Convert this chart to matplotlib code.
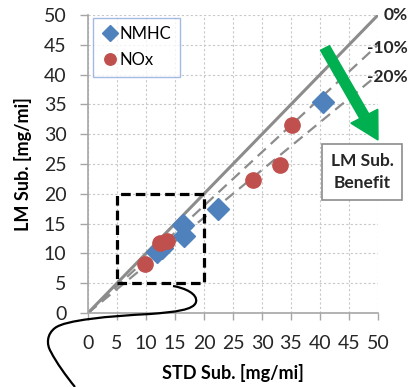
import matplotlib
matplotlib.use("Agg")
import matplotlib.pyplot as plt
import numpy as np
from matplotlib.path import Path
from matplotlib.patches import PathPatch, FancyArrow

plt.rcParams['font.family'] = ['Lato', 'DejaVu Sans']

# Data
nmhc_x = [40.5, 22.4, 16.4, 16.6, 11.9, 12.8]
nmhc_y = [35.4, 17.4, 14.8, 12.9, 10.3, 10.9]
nox_x = [35.2, 33.1, 28.5, 12.4, 13.6, 9.9]
nox_y = [31.5, 24.8, 22.3, 11.8, 12.0, 8.3]
ref_slopes = [1.0, 0.9, 0.8]
ref_labels = ["0%", "-10%", "-20%"]
ticks = list(range(0, 51, 5))

W, H = 409, 387
fig = plt.figure(figsize=(W/100, H/100), dpi=100)
ax = fig.add_axes([88/W, (H-313)/H, 290/W, 298/H])
ax.set_xlim(0, 50)
ax.set_ylim(0, 50)
ax.set_xticks(ticks)
ax.set_yticks(ticks)
ax.tick_params(axis='both', labelsize=14, colors='#A6A6A6', labelcolor='#262626')
ax.tick_params(axis='y', length=5.5, width=1, pad=10)
ax.tick_params(axis='x', length=5, width=1, pad=11)
ax.grid(True, color='#C8C8C8', linestyle=(0, (2, 2)), linewidth=0.8)
ax.set_axisbelow(True)
for s in ['top', 'right']:
    ax.spines[s].set_visible(False)
for s in ['left', 'bottom']:
    ax.spines[s].set_color('#A6A6A6')
    ax.spines[s].set_linewidth(1.2)

xx = np.array([0, 50])
ax.plot(xx, ref_slopes[0]*xx, color='#8C8C8C', lw=2.2, solid_capstyle='butt', zorder=2)
for s in ref_slopes[1:]:
    ax.plot(xx, s*xx, color='#8C8C8C', lw=1.6, ls=(0, (5, 3)), zorder=2)

ax.plot(nmhc_x, nmhc_y, 'D', color='#4F81BD', ms=11.5, mec='#4F81BD', label='NMHC', zorder=4)
ax.plot(nox_x, nox_y, 'o', color='#C0504D', ms=11, mec='#C0504D', label='NOx', zorder=4)

# dashed box
ax.plot([5, 20, 20, 5, 5], [5, 5, 20, 20, 5], color='black', lw=2.3, ls=(0, (3, 1.6)), zorder=5)

# percentage labels
label_y = [15, 48, 77]
for lab, py in zip(ref_labels, label_y):
    fig.text(408/W, (H-py)/H, lab, ha='right', va='center', fontsize=12.5, fontweight='bold', color='#262626')

leg = ax.legend(loc='upper left', bbox_to_anchor=(0.017, 0.99), borderaxespad=0,
                fontsize=12, frameon=True, fancybox=False, handletextpad=0.1,
                handlelength=1.0, borderpad=0.5, labelspacing=0.6, markerscale=0.75)
leg.get_frame().set_edgecolor('#8EA9DB')
leg.get_frame().set_linewidth(1.0)

ax.set_xlabel('STD Sub. [mg/mi]', fontsize=13, fontweight='bold')
ax.set_ylabel('LM Sub. [mg/mi]', fontsize=13, fontweight='bold')
ax.xaxis.set_label_coords(0.5, (313-373)/298, transform=ax.transAxes)
ax.yaxis.set_label_coords((23-88)/290, 0.5, transform=ax.transAxes)
ax.xaxis.label.set_va('center')
ax.yaxis.label.set_va('center')

# green arrow (figure pixel coords)
x0, y0 = 325/W, (H-48)/H
x1, y1 = 378/W, (H-140)/H
arr = FancyArrow(x0, y0, (x1-x0), (y1-y0), width=0.025, head_width=0.075,
                 head_length=0.07, length_includes_head=True, color='#00B050',
                 transform=fig.transFigure, zorder=6)
fig.add_artist(arr)

# benefit box
fig.text(362/W, (H-172)/H, 'LM Sub.\nBenefit', ha='center', va='center', fontsize=12.5,
         fontweight='bold', color='#262626', linespacing=1.45,
         bbox=dict(boxstyle='square,pad=0.5', fc='white', ec='#8C8C8C', lw=1.2))

# bracket curve (figure pixel coords)
pts = [(173, 286), (185, 288), (198, 294), (196, 302),
       (194, 310), (175, 312), (150, 314),
       (110, 316), (65, 320), (55, 328),
       (47, 334), (46, 344), (51, 352),
       (56, 362), (66, 376), (75, 387)]
codes = [Path.MOVETO] + [Path.CURVE4]*15
verts = [(px/W, (H-py)/H) for px, py in pts]
patch = PathPatch(Path(verts, codes), fill=False, lw=1.6, ec='black',
                  transform=fig.transFigure, zorder=7)
fig.add_artist(patch)

fig.savefig('out.png', dpi=100)
